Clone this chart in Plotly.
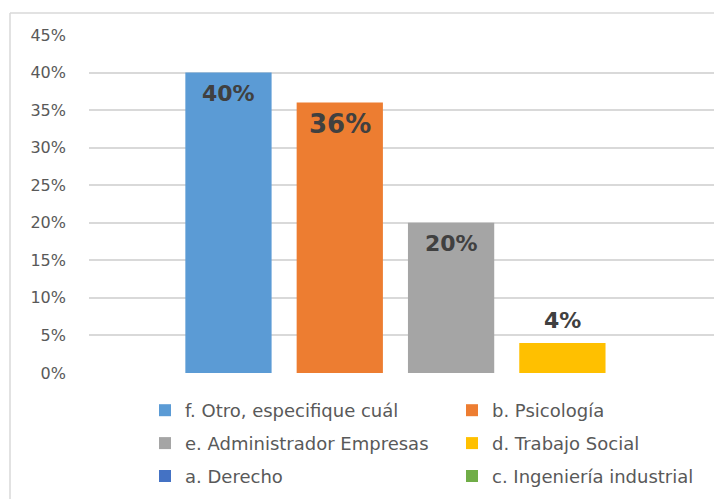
import plotly.graph_objects as go

# Carreras y porcentajes
careers = [
    "f. Otro, especifique cuál",
    "b. Psicología",
    "e. Administrador Empresas",
    "d. Trabajo Social",
    "a. Derecho",
    "c. Ingeniería industrial",
]
percent = [40, 36, 20, 4, None, None]
colors = ["#5B9BD5", "#ED7D31", "#A5A5A5", "#FFC000", "#4472C4", "#70AD47"]
label_inside = [True, True, True, False, None, None]
label_size = [22, 26, 22, 22, None, None]
legend_ref = ["legend", "legend2", "legend", "legend2", "legend", "legend2"]
y_ticks = list(range(0, 50, 5))
y_tick_text = [f"{v}%" for v in y_ticks]

W, H = 714, 499
ML, MR, MT, MB = 89, 0, 35, 126

fig = go.Figure()
for i, (name, val, col) in enumerate(zip(careers, percent, colors)):
    fig.add_trace(go.Bar(
        x=[i] if val is not None else [None],
        y=[val] if val is not None else [None],
        name=name,
        marker=dict(color=col, line=dict(width=0)),
        width=0.775,
        legend=legend_ref[i],
        legendgroup=f"g{i}",
        hoverinfo="skip",
    ))
    if val is not None:
        inside = label_inside[i]
        fig.add_annotation(
            x=i, y=val, xref="x", yref="y",
            text=f"<b>{val}%</b>", showarrow=False,
            yanchor="middle", yshift=-21 if inside else 22,
            font=dict(family="DejaVu Sans", size=label_size[i], color="#404040"),
        )

# Outer frame (left and top edges)
pw = W - ML - MR
ph = H - MT - MB
def px_x(p):
    return (p - ML) / pw
def px_y(p):
    return 1 - (p - MT) / ph
fig.add_shape(type="line", xref="paper", yref="paper",
              x0=px_x(10), x1=px_x(10), y0=px_y(13), y1=px_y(H + 5),
              line=dict(color="#D9D9D9", width=1.5))
fig.add_shape(type="line", xref="paper", yref="paper",
              x0=px_x(10), x1=px_x(W + 5), y0=px_y(13), y1=px_y(13),
              line=dict(color="#D9D9D9", width=1.5))

legend_font = dict(family="DejaVu Sans", size=18, color="#595959")
common_legend = dict(
    orientation="v", xref="container", yref="container",
    xanchor="left", yanchor="top", font=legend_font,
    bgcolor="rgba(0,0,0,0)", tracegroupgap=6.5, traceorder="grouped",
    itemclick=False, itemdoubleclick=False,
)

fig.update_layout(
    width=W, height=H,
    margin=dict(l=ML, r=MR, t=MT, b=MB, autoexpand=False),
    paper_bgcolor="white", plot_bgcolor="white",
    barmode="overlay",
    showlegend=True,
    legend=dict(x=145 / W, y=1 - (392 / H), **common_legend),
    legend2=dict(x=452 / W, y=1 - (392 / H), **common_legend),
    xaxis=dict(range=[-1.253, 4.362], showticklabels=False, showgrid=False,
               zeroline=False, showline=False, ticks=""),
    yaxis=dict(range=[0, 45], tickvals=y_ticks, ticktext=y_tick_text,
               showgrid=True, gridcolor="#D9D9D9", gridwidth=1.5,
               zeroline=False, showline=False, ticks="",
               ticklabelstandoff=22,
               tickfont=dict(family="DejaVu Sans", size=16, color="#595959")),
    font=dict(family="DejaVu Sans"),
)

fig.write_html("out.html")
